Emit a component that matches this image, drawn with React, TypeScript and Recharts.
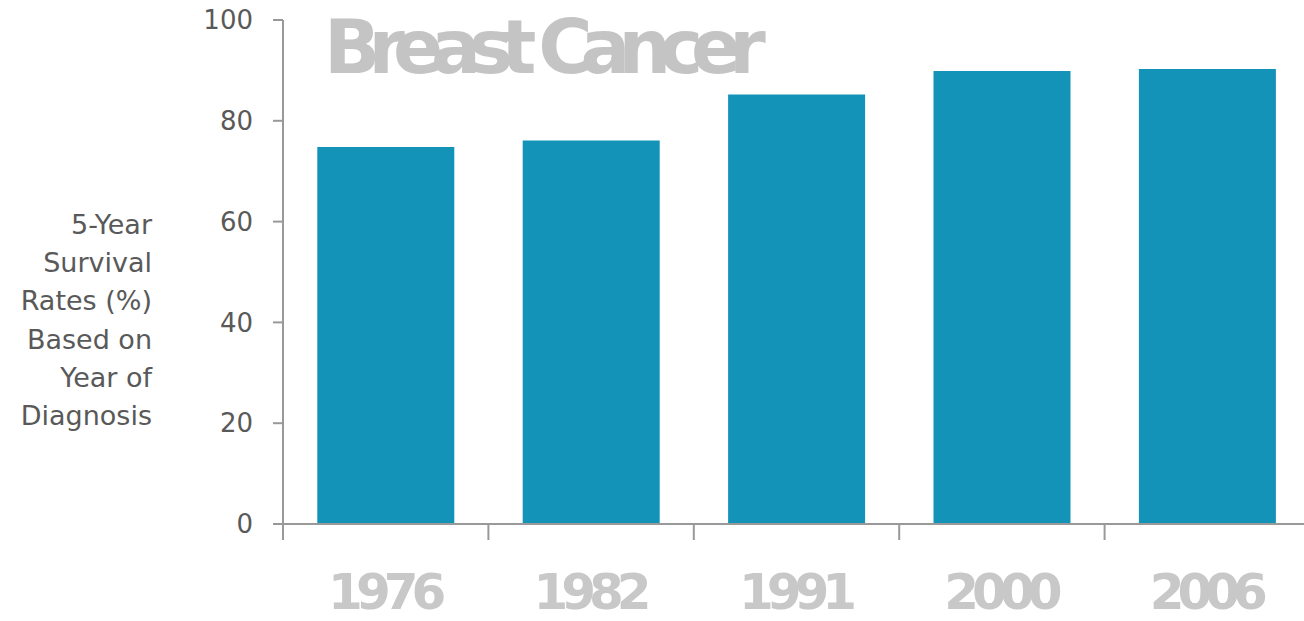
import { BarChart, Bar, XAxis, YAxis } from "recharts";

const years = ["1976", "1982", "1991", "2000", "2006"];
const survival = [74.8, 76.1, 85.2, 89.9, 90.3];
const yTicks = [0, 20, 40, 60, 80, 100];
const yLabelLines = ["5-Year", "Survival", "Rates (%)", "Based on", "Year of", "Diagnosis"];

const data = years.map((year, i) => ({ year, value: survival[i] }));

const AXIS = "#999999";
const FONT = "'DejaVu Sans', Verdana, sans-serif";

function YearTick(props: any) {
  const { x, y, payload } = props;
  const left = x - (payload.offset || 0);
  return (
    <g>
      <line x1={left} y1={y} x2={left} y2={y + 16} stroke={AXIS} strokeWidth={2} />
      <text
        x={x - 2}
        y={y + 85}
        textAnchor="middle"
        fill="#c8c8c8"
        fontFamily={FONT}
        fontWeight="bold"
        fontSize={50}
        letterSpacing={-7}
      >
        {payload.value}
      </text>
    </g>
  );
}

function YLabel() {
  return (
    <text
      x={152}
      y={234}
      textAnchor="end"
      fill="#595959"
      fontFamily={FONT}
      fontSize={27}
    >
      {yLabelLines.map((line, i) => (
        <tspan key={line} x={152} dy={i === 0 ? 0 : 38.2}>
          {line}
        </tspan>
      ))}
    </text>
  );
}

export default function App() {
  return (
    <div
      style={{
        position: "absolute",
        left: 0,
        top: 0,
        width: 1304,
        height: 621,
        overflow: "hidden",
        background: "#fff",
      }}
    >
      <BarChart
        width={1310}
        height={621}
        data={data}
        margin={{ top: 20, right: 0, bottom: 0, left: 0 }}
        barCategoryGap="16.7%"
      >
        <XAxis
          dataKey="year"
          height={97}
          stroke={AXIS}
          strokeWidth={2}
          tickLine={false}
          tickSize={0}
          tickMargin={0}
          tick={<YearTick />}
          interval={0}
        />
        <YAxis
          width={283}
          domain={[0, 100]}
          ticks={yTicks}
          stroke={AXIS}
          strokeWidth={2}
          tickSize={10}
          tickMargin={20}
          tick={{ fill: "#595959", fontSize: 26, fontFamily: FONT }}
          label={<YLabel />}
        />
        <Bar dataKey="value" fill="#1493b9" isAnimationActive={false} />
      </BarChart>
      <div
        style={{
          position: "absolute",
          left: 324,
          top: 4,
          color: "#c4c4c4",
          fontFamily: FONT,
          fontWeight: "bold",
          fontSize: 74,
          letterSpacing: -12,
          lineHeight: "86px",
          whiteSpace: "nowrap",
        }}
      >
        Breast Cancer
      </div>
    </div>
  );
}
